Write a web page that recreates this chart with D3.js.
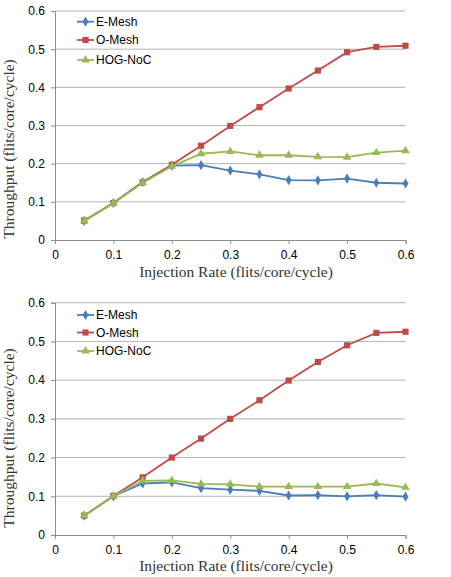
<!DOCTYPE html>
<html>
<head>
<meta charset="utf-8">
<script src="https://cdn.jsdelivr.net/npm/d3@7"></script>
<style>
  body { margin: 0; background: #fff; }
  svg { display: block; }
</style>
</head>
<body>
<svg id="chart"></svg>
<script>
const injectionRates = [0.05, 0.1, 0.15, 0.2, 0.25, 0.3, 0.35, 0.4, 0.45, 0.5, 0.55, 0.6];
const xTicks = [0, 0.1, 0.2, 0.3, 0.4, 0.5, 0.6];
const yTicks = [0, 0.1, 0.2, 0.3, 0.4, 0.5, 0.6];
const seriesNames = ["E-Mesh", "O-Mesh", "HOG-NoC"];

// top chart
const eMeshTop = [0.05, 0.097, 0.152, 0.195, 0.196, 0.182, 0.172, 0.157, 0.156, 0.161, 0.150, 0.148];
const oMeshTop = [0.051, 0.097, 0.151, 0.197, 0.247, 0.299, 0.348, 0.397, 0.444, 0.492, 0.506, 0.509];
const hogTop   = [0.05, 0.096, 0.150, 0.193, 0.226, 0.232, 0.222, 0.222, 0.218, 0.217, 0.229, 0.234];

// bottom chart
const eMeshBottom = [0.05, 0.100, 0.133, 0.136, 0.121, 0.117, 0.114, 0.102, 0.103, 0.100, 0.103, 0.099];
const oMeshBottom = [0.050, 0.101, 0.149, 0.200, 0.249, 0.300, 0.348, 0.399, 0.447, 0.490, 0.522, 0.525];
const hogBottom   = [0.05, 0.100, 0.140, 0.141, 0.132, 0.131, 0.125, 0.125, 0.125, 0.125, 0.133, 0.123];

const colors = ["#4A7EBB", "#BE4B48", "#98B954"];
const symbols = [d3.symbolDiamond, d3.symbolSquare, d3.symbolTriangle];
const symbolSizes = [30, 38, 32];

const W = 451, H = 577;
const svg = d3.select("#chart").attr("width", W).attr("height", H);

function drawChart(top, bottom, series, legendY, yTitleY, xTitleY) {
    const x = d3.scaleLinear().domain([0, 0.6]).range([55, 405.5]);
    const y = d3.scaleLinear().domain([0, 0.6]).range([bottom, top]);
    const g = svg.append("g");

    // gridlines
    g.selectAll(".grid")
        .data(yTicks.slice(1))
        .enter().append("line")
        .attr("x1", x(0)).attr("x2", x(0.6))
        .attr("y1", d => y(d)).attr("y2", d => y(d))
        .attr("stroke", "#b3b3b3").attr("stroke-width", 1);

    const yAxis = g.append("g")
        .attr("transform", `translate(${x(0)},0)`)
        .call(d3.axisLeft(y).tickValues(yTicks).tickSize(4).tickPadding(6)
            .tickFormat(d => d === 0 ? "0" : d3.format(".1f")(d)));
    const xAxis = g.append("g")
        .attr("transform", `translate(0,${y(0)})`)
        .call(d3.axisBottom(x).tickValues(xTicks).tickSize(4).tickPadding(6)
            .tickFormat(d => d === 0 ? "0" : d3.format(".1f")(d)));

    [yAxis, xAxis].forEach(a => {
        a.select(".domain").attr("stroke", "#8c8c8c");
        a.selectAll(".tick line").attr("stroke", "#8c8c8c");
        a.selectAll("text")
            .attr("fill", "#000")
            .style("font-family", "'Liberation Sans', Arial, sans-serif")
            .style("font-size", "12px");
    });

    const line = d3.line()
        .x((d, i) => x(injectionRates[i]))
        .y(d => y(d));

    series.forEach((vals, s) => {
        g.append("path")
            .datum(vals)
            .attr("fill", "none")
            .attr("stroke", colors[s])
            .attr("stroke-width", 1.8)
            .attr("d", line);
        g.selectAll(".m" + s)
            .data(vals)
            .enter().append("path")
            .attr("transform", (d, i) => `translate(${x(injectionRates[i])},${y(d)})`)
            .attr("d", d3.symbol().type(symbols[s]).size(symbolSizes[s]))
            .attr("fill", colors[s]);
    });

    // legend
    const leg = g.selectAll(".leg")
        .data(seriesNames)
        .enter().append("g")
        .attr("transform", (d, i) => `translate(77,${legendY[i]})`);
    leg.append("line")
        .attr("x1", 0).attr("x2", 17)
        .attr("stroke", (d, i) => colors[i]).attr("stroke-width", 1.8);
    leg.append("path")
        .attr("transform", "translate(8.5,0)")
        .attr("d", (d, i) => d3.symbol().type(symbols[i]).size(symbolSizes[i])())
        .attr("fill", (d, i) => colors[i]);
    leg.append("text")
        .attr("x", 19).attr("dy", "0.35em")
        .style("font-family", "'Liberation Sans', Arial, sans-serif")
        .style("font-size", "12px")
        .text(d => d);

    // axis titles
    g.append("text")
        .attr("transform", `translate(14,${yTitleY}) rotate(-90)`)
        .attr("text-anchor", "middle")
        .style("font-family", "'Liberation Serif', 'Times New Roman', serif")
        .style("font-size", "15.5px")
        .style("fill", "#333")
        .text("Throughput (flits/core/cycle)");
    g.append("text")
        .attr("x", 236).attr("y", xTitleY)
        .attr("text-anchor", "middle")
        .style("font-family", "'Liberation Serif', 'Times New Roman', serif")
        .style("font-size", "15.5px")
        .style("fill", "#333")
        .text("Injection Rate (flits/core/cycle)");
}

drawChart(11, 240, [eMeshTop, oMeshTop, hogTop], [21.7, 40, 60], 149, 277);
drawChart(302.7, 535, [eMeshBottom, oMeshBottom, hogBottom], [315, 332.5, 351], 438, 571);
</script>
</body>
</html>
